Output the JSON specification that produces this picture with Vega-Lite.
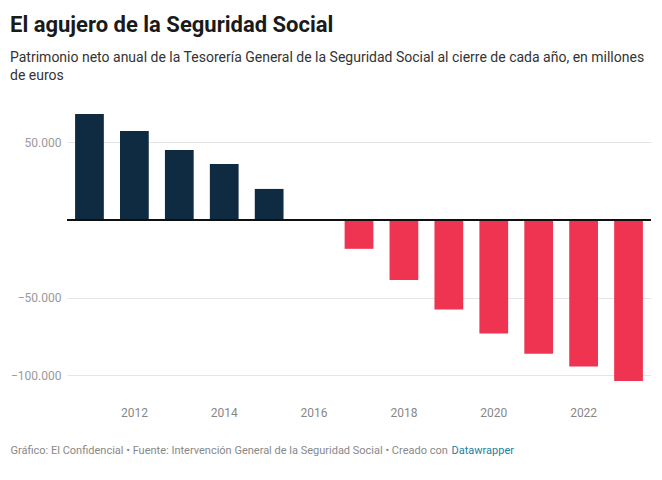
{
  "$schema": "https://vega.github.io/schema/vega-lite/v6.json",
  "width": 584,
  "height": 280,
  "autosize": "none",
  "padding": {"left": 67, "top": 111, "right": 11, "bottom": 89},
  "background": "white",
  "title": {
    "text": "El agujero de la Seguridad Social",
    "subtitle": ["Patrimonio neto anual de la Tesorería General de la Seguridad Social al cierre de cada año, en millones", "de euros"],
    "anchor": "start",
    "frame": "group",
    "dx": -57,
    "offset": 27,
    "font": "Roboto",
    "fontSize": 22,
    "fontWeight": "bold",
    "color": "#1a1a1a",
    "subtitleFont": "Roboto",
    "subtitleFontSize": 14,
    "subtitleColor": "#333333",
    "subtitlePadding": 14,
    "subtitleLineHeight": 18
  },
  "data": {
    "values": [
      {"year": 2011, "value": 68100},
      {"year": 2012, "value": 57200},
      {"year": 2013, "value": 45000},
      {"year": 2014, "value": 36000},
      {"year": 2015, "value": 19900},
      {"year": 2016, "value": 0},
      {"year": 2017, "value": -18600},
      {"year": 2018, "value": -38600},
      {"year": 2019, "value": -57600},
      {"year": 2020, "value": -73100},
      {"year": 2021, "value": -86100},
      {"year": 2022, "value": -94300},
      {"year": 2023, "value": -103500}
    ]
  },
  "layer": [
    {
      "mark": {"type": "bar"},
      "encoding": {
        "x": {
          "field": "year",
          "type": "ordinal",
          "scale": {"paddingInner": 0.36, "paddingOuter": 0.18},
          "axis": {
            "values": [2012, 2014, 2016, 2018, 2020, 2022],
            "labelAngle": 0,
            "ticks": false,
            "domain": false,
            "labelPadding": 16,
            "labelFont": "Roboto",
            "labelFontSize": 12,
            "labelColor": "#888888",
            "title": "Gráfico: El Confidencial • Fuente: Intervención General de la Seguridad Social • Creado con",
            "titleAnchor": "start",
            "titleAlign": "left",
            "titleBaseline": "alphabetic",
            "titleX": -57,
            "titleY": 62,
            "titleFont": "Roboto",
            "titleFontSize": 11,
            "titleFontWeight": "normal",
            "titleColor": "#888888"
          }
        },
        "y": {
          "field": "value",
          "type": "quantitative",
          "scale": {"domain": [-110000, 70000], "nice": false, "zero": false},
          "axis": {
            "values": [-100000, -50000, 50000],
            "labelExpr": "replace(format(datum.value, ','), ',', '.')",
            "domain": false,
            "ticks": false,
            "labelPadding": 6,
            "labelFont": "Roboto",
            "labelFontSize": 12,
            "labelColor": "#999999",
            "gridColor": "#e5e5e5",
            "title": "Datawrapper",
            "titleAngle": 0,
            "titleAlign": "left",
            "titleBaseline": "alphabetic",
            "titleX": 384,
            "titleY": 342,
            "titleFont": "Roboto",
            "titleFontSize": 11,
            "titleFontWeight": "normal",
            "titleColor": "#1d81a2"
          }
        },
        "color": {
          "condition": {"test": "datum.value < 0", "value": "#ef3452"},
          "value": "#0e2b42"
        }
      }
    },
    {
      "mark": {"type": "rule", "color": "#111111", "strokeWidth": 1},
      "encoding": {"y": {"datum": 0}}
    }
  ],
  "config": {"view": {"stroke": null}}
}
